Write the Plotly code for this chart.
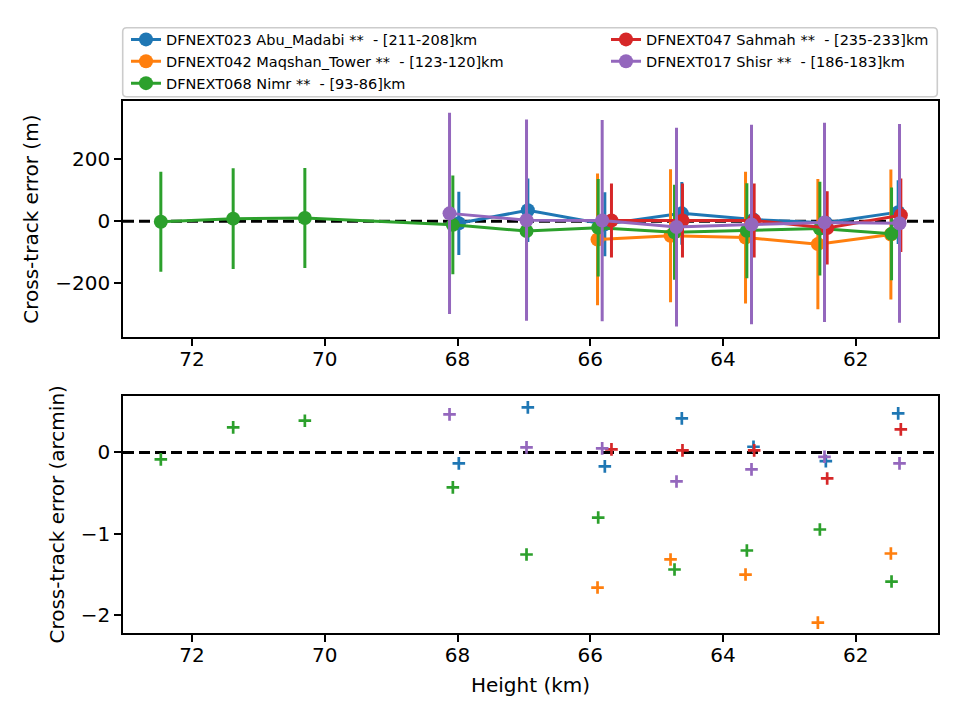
import plotly.graph_objects as go

# ---------------- data ----------------
names = [
    "DFNEXT023 Abu_Madabi **  - [211-208]km",
    "DFNEXT042 Maqshan_Tower **  - [123-120]km",
    "DFNEXT068 Nimr **  - [93-86]km",
    "DFNEXT047 Sahmah **  - [235-233]km",
    "DFNEXT017 Shisr **  - [186-183]km",
]
colors = ["#1f77b4", "#ff7f0e", "#2ca02c", "#d62728", "#9467bd"]

height_023 = [67.98, 66.94, 65.78, 64.62, 63.54, 62.45, 61.36]
err_m_023 = [-7, 35, -10, 25, 5, -5, 29]
sig_m_023 = [102, 102, 103, 101, 100, 100, 103]
err_am_023 = [-0.135, 0.553, -0.172, 0.418, 0.069, -0.107, 0.479]

height_042 = [65.89, 64.79, 63.66, 62.57, 61.47]
err_m_042 = [-59, -47, -53, -74, -43]
sig_m_042 = [212, 214, 212, 210, 209]
err_am_042 = [-1.66, -1.315, -1.50, -2.09, -1.242]

height_068 = [72.47, 71.38, 70.30, 68.07, 66.96, 65.88, 64.73, 63.64, 62.54, 61.46]
err_m_068 = [-2, 8, 10, -12, -32, -21, -36, -31, -24, -41]
sig_m_068 = [161, 162, 161, 159, 160, 157, 153, 153, 151, 149]
err_am_068 = [-0.086, 0.307, 0.389, -0.43, -1.254, -0.80, -1.438, -1.205, -0.947, -1.586]

height_047 = [65.68, 64.61, 63.53, 62.43, 61.32]
err_m_047 = [2, 2, 2, -22, 19]
sig_m_047 = [119, 119, 119, 118, 118]
err_am_047 = [0.037, 0.025, 0.025, -0.32, 0.283]

height_017 = [68.12, 66.96, 65.82, 64.70, 63.57, 62.47, 61.34]
err_m_017 = [25, 3, 2, -19, -11, -4, -7]
sig_m_017 = [324, 324, 324, 320, 321, 321, 320]
err_am_017 = [0.467, 0.061, 0.049, -0.357, -0.209, -0.054, -0.135]

heights = [height_023, height_042, height_068, height_047, height_017]
errs_m = [err_m_023, err_m_042, err_m_068, err_m_047, err_m_017]
sigs_m = [sig_m_023, sig_m_042, sig_m_068, sig_m_047, sig_m_017]
errs_am = [err_am_023, err_am_042, err_am_068, err_am_047, err_am_017]
legend_ids = ["legend", "legend", "legend", "legend2", "legend2"]

x_ticks = [72, 70, 68, 66, 64, 62]
y1_ticks = [-200, 0, 200]
y2_ticks = [-2, -1, 0]

# ---------------- layout geometry ----------------
W, H = 960, 720
ML, MR, MT, MB = 123, 22, 101, 87
PW, PH = W - ML - MR, H - MT - MB


def px(xp):
    return (xp - ML) / PW


def py(yp):
    return (H - MB - yp) / PH


FONT = "DejaVu Sans"
TICK = 20
fig = go.Figure()

for i in range(5):
    fig.add_trace(go.Scatter(
        x=heights[i], y=errs_m[i], mode="lines+markers", name=names[i],
        line=dict(color=colors[i], width=3),
        marker=dict(color=colors[i], size=14),
        error_y=dict(type="data", array=sigs_m[i], color=colors[i], thickness=3, width=0),
        xaxis="x", yaxis="y", legend=legend_ids[i],
    ))

for i in range(5):
    fig.add_trace(go.Scatter(
        x=heights[i], y=errs_am[i], mode="markers", name=names[i], showlegend=False,
        marker=dict(symbol="cross-thin", size=9, color=colors[i],
                    line=dict(color=colors[i], width=2.7)),
        xaxis="x2", yaxis="y2",
    ))

axis_common = dict(
    showline=True, mirror=True, linecolor="black", linewidth=1.6,
    ticks="outside", ticklen=7, tickwidth=1.6, tickcolor="black",
    showgrid=False, zeroline=False,
    tickfont=dict(family=FONT, size=TICK, color="black"),
)

fig.update_layout(
    width=W, height=H,
    margin=dict(l=ML, r=MR, t=MT, b=MB),
    paper_bgcolor="white", plot_bgcolor="white",
    font=dict(family=FONT, color="black"),
    xaxis=dict(domain=[0, 1], anchor="y", range=[73.04, 60.76], tickvals=x_ticks,
               ticklabelstandoff=-4, **axis_common),
    yaxis=dict(domain=[py(337.3), 1], anchor="x", range=[-374, 386.8], tickvals=y1_ticks,
               automargin=True,
               title=dict(text="Cross-track error (m)", font=dict(family=FONT, size=TICK), standoff=11),
               **axis_common),
    xaxis2=dict(domain=[0, 1], anchor="y2", range=[73.04, 60.76], tickvals=x_ticks,
                ticklabelstandoff=-4, automargin=True,
                title=dict(text="Height (km)", font=dict(family=FONT, size=TICK), standoff=12),
                **axis_common),
    yaxis2=dict(domain=[0, py(395.7)], anchor="x2", range=[-2.218, 0.696], tickvals=y2_ticks,
                automargin=True,
                title=dict(text="Cross-track error (arcmin)", font=dict(family=FONT, size=TICK), standoff=11),
                **axis_common),
    legend=dict(x=px(126), y=py(23.5), xanchor="left", yanchor="top",
                bgcolor="rgba(0,0,0,0)", borderwidth=0, itemwidth=30,
                font=dict(family=FONT, size=14.5, color="black")),
    legend2=dict(x=px(606), y=py(23.5), xanchor="left", yanchor="top",
                 bgcolor="rgba(0,0,0,0)", borderwidth=0, itemwidth=30,
                 font=dict(family=FONT, size=14.5, color="black")),
    showlegend=True,
)

# zero reference lines
for yref in ["y", "y2"]:
    fig.add_shape(type="line", xref=("x domain" if yref == "y" else "x2 domain"), yref=yref,
                  x0=0, x1=1, y0=0, y1=0, layer="below",
                  line=dict(color="black", width=3, dash="11px,5px"))

# legend frame (rounded)
x0, x1 = px(122.7), px(937.3)
y0, y1 = py(96.7), py(27.7)
rx, ry = 4 / PW, 4 / PH
path = (f"M{x0+rx},{y0} L{x1-rx},{y0} Q{x1},{y0} {x1},{y0+ry} L{x1},{y1-ry} "
        f"Q{x1},{y1} {x1-rx},{y1} L{x0+rx},{y1} Q{x0},{y1} {x0},{y1-ry} "
        f"L{x0},{y0+ry} Q{x0},{y0} {x0+rx},{y0} Z")
fig.add_shape(type="path", xref="paper", yref="paper", path=path,
              line=dict(color="#cccccc", width=1.6), fillcolor="rgba(0,0,0,0)")

fig.write_html("out.html")
